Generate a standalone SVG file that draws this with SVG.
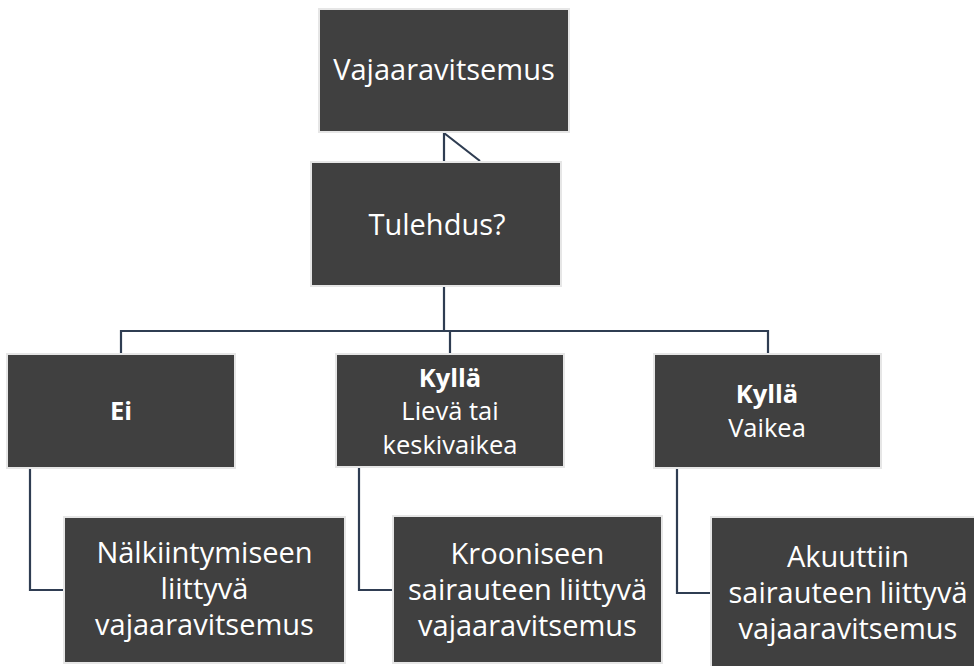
<svg xmlns="http://www.w3.org/2000/svg" width="974" height="666" viewBox="0 0 974 666">
<style>
.box{fill:#404040;stroke:#e6e6e6;stroke-width:2}
.t{font-family:"Open Sans","Noto Sans",sans-serif;fill:#ffffff;text-anchor:middle}
.l{font-size:29px}
.m{font-size:25.5px}
.b{font-weight:bold}
.c{fill:none;stroke:#2f3d52;stroke-width:2.2}
</style>
<rect width="974" height="666" fill="#ffffff"/>
<g id="connectors">
<path class="c" d="M444 133 V161 M444 133 L480 161"/>
<path class="c" d="M444 287 V331 M121 353 V331 H768 V353 M450 331 V353"/>
<path class="c" d="M30 469 V590 H63"/>
<path class="c" d="M359 468 V590 H392"/>
<path class="c" d="M677 469 V593 H710"/>
</g>
<g id="vajaaravitsemus">
<rect class="box" x="319" y="9" width="250" height="123"/>
<text class="t l" x="444" y="80">Vajaaravitsemus</text>
</g>
<g id="tulehdus">
<rect class="box" x="311" y="162" width="250" height="124"/>
<text class="t l" x="437" y="235">Tulehdus?</text>
</g>
<g id="ei">
<rect class="box" x="7" y="354" width="228" height="114"/>
<text class="t m b" x="121" y="420">Ei</text>
</g>
<g id="kylla-lieva">
<rect class="box" x="336" y="354" width="228" height="113"/>
<text class="t m b" x="450" y="387">Kyllä</text>
<text class="t m" x="450" y="420">Lievä tai</text>
<text class="t m" x="450" y="454">keskivaikea</text>
</g>
<g id="kylla-vaikea">
<rect class="box" x="654" y="354" width="227" height="114"/>
<text class="t m b" x="767" y="403">Kyllä</text>
<text class="t m" x="767" y="437">Vaikea</text>
</g>
<g id="nalkiintymiseen">
<rect class="box" x="64" y="517" width="281" height="146"/>
<text class="t l" x="204.5" y="563">Nälkiintymiseen</text>
<text class="t l" x="204.5" y="599">liittyvä</text>
<text class="t l" x="204.5" y="635">vajaaravitsemus</text>
</g>
<g id="krooniseen">
<rect class="box" x="393" y="516" width="269" height="147"/>
<text class="t l" x="527.5" y="564">Krooniseen</text>
<text class="t l" x="527.5" y="600">sairauteen liittyvä</text>
<text class="t l" x="527.5" y="636">vajaaravitsemus</text>
</g>
<g id="akuuttiin">
<rect class="box" x="711" y="517" width="274" height="152"/>
<text class="t l" x="848" y="567">Akuuttiin</text>
<text class="t l" x="848" y="603">sairauteen liittyvä</text>
<text class="t l" x="848" y="639">vajaaravitsemus</text>
</g>
</svg>
